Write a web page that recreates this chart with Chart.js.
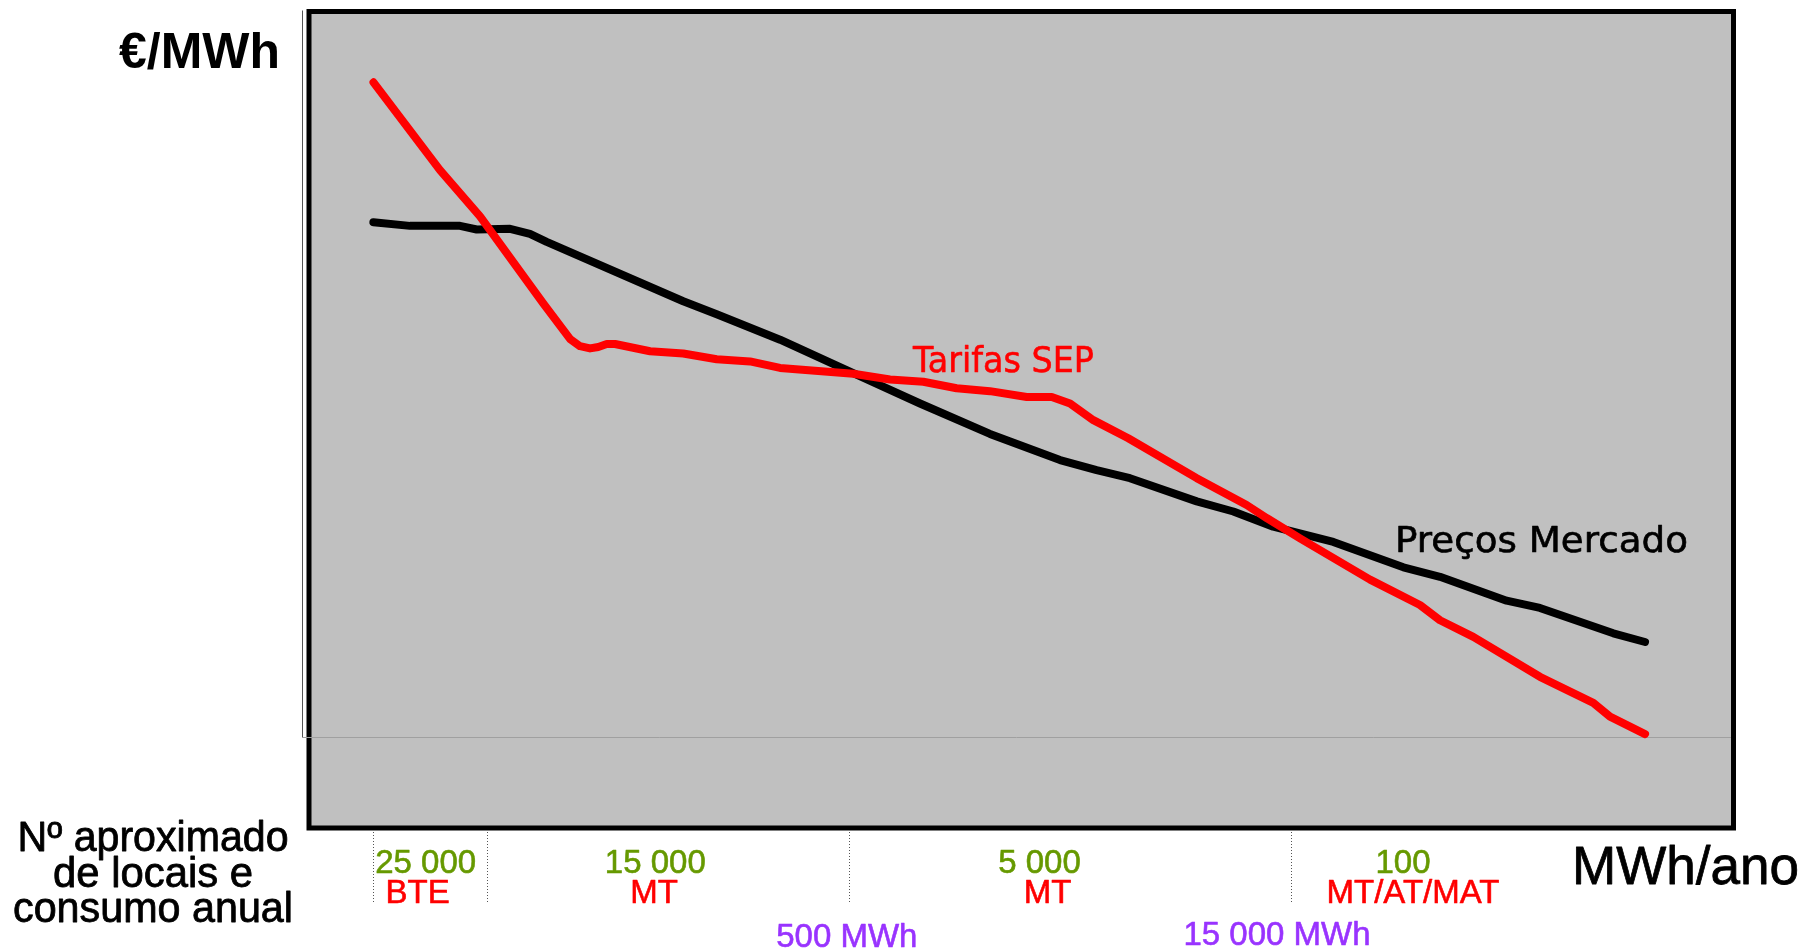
<!DOCTYPE html>
<html>
<head>
<meta charset="utf-8">
<script src="https://cdn.jsdelivr.net/npm/chart.js@4.4.0/dist/chart.umd.min.js"></script>
<style>
  html, body { margin: 0; padding: 0; background: #fff; }
  canvas { display: block; }
</style>
</head>
<body>
<canvas id="chart" width="1809" height="951"></canvas>
<script>
// Tarifas SEP (vermelho) - posição relativa no eixo de consumo, €/MWh relativo
const tarifasX = [4.93, 9.58, 12.38, 16.80, 18.67, 19.37, 20.07, 20.65, 21.24, 21.82, 24.27, 26.59, 28.93, 31.26, 33.36, 38.48, 41.05, 43.38, 45.71, 48.04, 50.61, 52.36, 53.64, 55.27, 57.71, 62.50, 65.99, 67.39, 69.72, 74.62, 78.11, 79.51, 81.84, 86.50, 90.23, 91.40, 93.85]
const tarifasY = [90.3, 78.2, 71.8, 59.8, 54.9, 53.9, 53.6, 53.8, 54.2, 54.2, 53.2, 52.9, 52.1, 51.8, 50.9, 50.1, 49.3, 49.0, 48.1, 47.7, 46.9, 46.9, 46.0, 43.7, 41.2, 35.7, 32.0, 30.2, 27.4, 21.7, 18.2, 16.1, 13.8, 8.3, 4.7, 2.8, 0.4]

// Preços Mercado (preto)
const mercadoX = [4.92, 7.48, 10.98, 12.15, 14.48, 15.87, 17.04, 26.59, 28.93, 33.36, 38.02, 43.15, 48.04, 52.94, 55.50, 57.83, 62.50, 65.06, 67.85, 72.05, 76.95, 79.51, 84.17, 86.50, 91.63, 93.85]
const mercadoY = [71.0, 70.5, 70.5, 70.0, 70.1, 69.4, 68.3, 60.1, 58.3, 54.8, 50.6, 46.0, 41.8, 38.2, 36.8, 35.7, 32.5, 31.1, 29.0, 26.9, 23.4, 22.1, 18.8, 17.8, 14.3, 13.1]

// segmentos de clientes
const separadores = [4.9, 12.9, 38.2, 69.1]
const numLocais = ['25 000', '15 000', '5 000', '100']
const niveisTensao = ['BTE', 'MT', 'MT', 'MT/AT/MAT']
const limiares = ['500 MWh', '15 000 MWh']

const toPoints = (xs, ys) => xs.map((x, i) => ({ x: x, y: ys[i] }))

// texto com largura forçada (as fontes originais são mais estreitas)
function drawText(ctx, text, x, y, font, color, align, width, bold) {
  ctx.save()
  ctx.font = font
  ctx.fillStyle = color
  ctx.textBaseline = 'alphabetic'
  const w = ctx.measureText(text).width
  const s = width ? width / w : 1
  ctx.translate(x, y)
  ctx.scale(s, 1)
  ctx.textAlign = align
  ctx.fillText(text, 0, 0)
  if (bold) {
    ctx.strokeStyle = color
    ctx.lineWidth = bold
    ctx.lineJoin = 'round'
    ctx.strokeText(text, 0, 0)
  }
  ctx.restore()
}

const moldura = {
  id: 'moldura',
  beforeDraw(chart) {
    const ctx = chart.ctx
    const yScale = chart.scales.y
    const y0 = Math.round(yScale.getPixelForValue(0)) + 0.5
    ctx.save()
    ctx.fillStyle = '#ffffff'
    ctx.fillRect(0, 0, chart.width, chart.height)
    // linha fina da área do gráfico
    ctx.strokeStyle = '#555555'
    ctx.lineWidth = 1
    ctx.beginPath()
    ctx.moveTo(302.5, 10.5)
    ctx.lineTo(302.5, y0)
    ctx.stroke()
    // caixa cinzenta com contorno preto
    ctx.fillStyle = '#c0c0c0'
    ctx.fillRect(309, 11.5, 1424.5, 816.5)
    ctx.strokeStyle = '#000000'
    ctx.lineWidth = 5
    ctx.strokeRect(309, 11.5, 1424.5, 816.5)
    // linha do zero
    ctx.strokeStyle = '#a0a0a0'
    ctx.lineWidth = 1
    ctx.beginPath()
    ctx.moveTo(302, y0)
    ctx.lineTo(1731, y0)
    ctx.stroke()
    ctx.restore()
  },
  afterDraw(chart) {
    const ctx = chart.ctx
    const xScale = chart.scales.x
    ctx.save()
    // separadores pontilhados
    ctx.strokeStyle = '#555555'
    ctx.lineWidth = 1
    ctx.setLineDash([1, 2])
    separadores.forEach(v => {
      const px = Math.round(xScale.getPixelForValue(v)) + 0.5
      ctx.beginPath()
      ctx.moveTo(px, 832)
      ctx.lineTo(px, 902)
      ctx.stroke()
    })
    ctx.setLineDash([])
    ctx.restore()

    const arial = '"Liberation Sans", Arial, sans-serif'
    const tahoma = '"DejaVu Sans", Verdana, sans-serif'

    drawText(ctx, '€/MWh', 280, 68, 'bold 50px ' + arial, '#000', 'right', 161)
    drawText(ctx, 'MWh/ano', 1572, 884, '54px ' + arial, '#000', 'left', 227, 0.8)

    drawText(ctx, 'Nº aproximado', 153, 851, '42px ' + arial, '#000', 'center', 271, 0.8)
    drawText(ctx, 'de locais e', 153, 887, '42px ' + arial, '#000', 'center', 200, 0.8)
    drawText(ctx, 'consumo anual', 153, 922, '42px ' + arial, '#000', 'center', 280, 0.8)

    drawText(ctx, 'Tarifas SEP', 913, 372, '36px ' + tahoma, '#ff0000', 'left', 181, 0.6)
    drawText(ctx, 'Preços Mercado', 1395, 552, '35px ' + tahoma, '#000', 'left', 293, 0.6)

    const centrosNum = [425.7, 655.3, 1039.5, 1403]
    const centrosTensao = [417.6, 654, 1047.5, 1413]
    numLocais.forEach((t, i) => {
      drawText(ctx, t, centrosNum[i], 873, '33px ' + arial, '#669900', 'center', null, 0.6)
    })
    niveisTensao.forEach((t, i) => {
      drawText(ctx, t, centrosTensao[i], 903, '33px ' + arial, '#ff0000', 'center', null, 0.6)
    })
    const centrosLim = [846.8, 1277]
    const baseLim = [947, 945]
    limiares.forEach((t, i) => {
      drawText(ctx, t, centrosLim[i], baseLim[i], '33px ' + arial, '#9933ff', 'center', null, 0.6)
    })
  }
}

new Chart(document.getElementById('chart'), {
  type: 'line',
  data: {
    datasets: [
      {
        label: 'Tarifas SEP',
        data: toPoints(tarifasX, tarifasY),
        borderColor: '#ff0000',
        borderWidth: 8,
        borderCapStyle: 'round',
        borderJoinStyle: 'round',
        pointRadius: 0,
        tension: 0,
        fill: false,
        clip: false
      },
      {
        label: 'Preços Mercado',
        data: toPoints(mercadoX, mercadoY),
        borderColor: '#000000',
        borderWidth: 8,
        borderCapStyle: 'round',
        borderJoinStyle: 'round',
        pointRadius: 0,
        tension: 0,
        fill: false,
        clip: false
      }
    ]
  },
  options: {
    responsive: false,
    animation: false,
    devicePixelRatio: 1,
    layout: {
      padding: { left: 303, right: 76, top: 12, bottom: 125 }
    },
    plugins: {
      legend: { display: false },
      tooltip: { enabled: false }
    },
    scales: {
      x: { type: 'linear', min: 0, max: 100, display: false },
      y: { min: -12.28, max: 100, display: false }
    }
  },
  plugins: [moldura]
})
</script>
</body>
</html>
